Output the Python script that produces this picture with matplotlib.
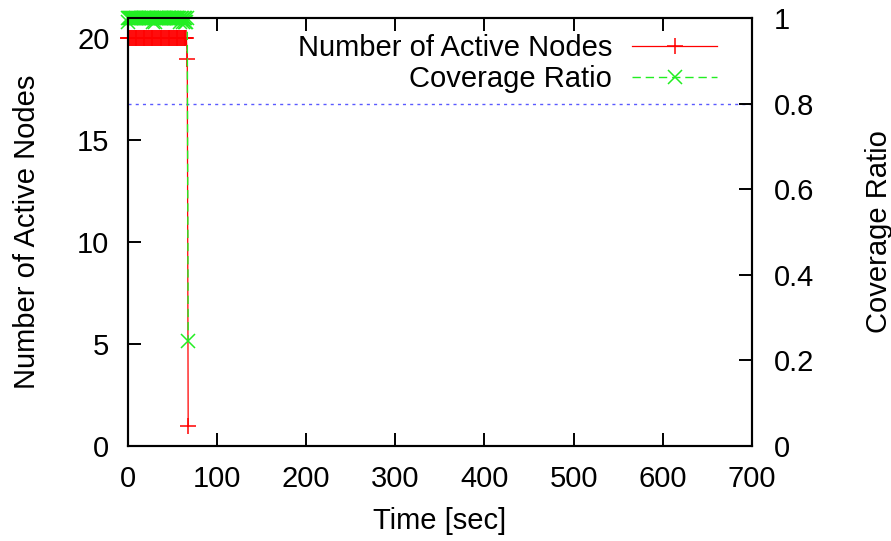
import matplotlib
matplotlib.use("Agg")
import matplotlib.pyplot as plt
from matplotlib.ticker import FixedLocator, FixedFormatter

plt.rcParams['font.family'] = ['Liberation Sans', 'DejaVu Sans']
plt.rcParams['lines.scale_dashes'] = False

# sample times in seconds (1 s steps)
time_sec = list(range(0, 69))

active_nodes = [
    20, 20, 20, 20, 20, 20, 20, 20, 20, 20,
    20, 20, 20, 20, 20, 20, 20, 20, 20, 20,
    20, 20, 20, 20, 20, 20, 20, 20, 20, 20,
    20, 20, 20, 20, 20, 20, 20, 20, 20, 20,
    20, 20, 20, 20, 20, 20, 20, 20, 20, 20,
    20, 20, 20, 20, 20, 20, 20, 20, 20, 20,
    20, 20, 20, 20, 20, 20, 20, 19, 1,
]

coverage = [
    0.99, 1.0, 1.0, 1.0, 1.0, 1.0, 1.0, 1.0, 1.0, 1.0,
    1.0, 1.0, 1.0, 1.0, 1.0, 1.0, 1.0, 1.0, 1.0, 1.0,
    1.0, 1.0, 1.0, 1.0, 1.0, 1.0, 1.0, 1.0, 1.0, 0.99,
    1.0, 0.99, 1.0, 1.0, 1.0, 1.0, 1.0, 1.0, 1.0, 1.0,
    1.0, 1.0, 1.0, 1.0, 1.0, 1.0, 1.0, 1.0, 1.0, 1.0,
    1.0, 1.0, 1.0, 1.0, 1.0, 1.0, 1.0, 1.0, 1.0, 0.99,
    1.0, 1.0, 0.99, 1.0, 0.99, 1.0, 0.99, 1.0, 0.245,
]

target_ratio = 0.8

x_ticks = [0, 100, 200, 300, 400, 500, 600, 700]
y_ticks = [0, 5, 10, 15, 20]
y2_ticks = [0, 0.2, 0.4, 0.6, 0.8, 1.0]
y2_labels = ["0", "0.2", "0.4", "0.6", "0.8", "1"]

fs = 21

fig = plt.figure(figsize=(8.91, 5.41), dpi=100)
ax = fig.add_axes([0.1431, 0.1756, 0.7009, 0.7911])
ax2 = ax.twinx()

ax2.axhline(target_ratio, color='#5a5aff', lw=1.0, ls=(0, (2.2, 3.0)), zorder=1)

l1, = ax.plot(time_sec, active_nodes, color='#ff0000', lw=0.9, marker='+',
              ms=11, mew=1.1, clip_on=False, label='Number of Active Nodes')
l2, = ax2.plot(time_sec, coverage, color='#22ee22', lw=1.0, ls=(0, (6, 3.5)),
               marker='x', ms=10, mew=1.1, clip_on=False, label='Coverage Ratio')

ax.set_xlim(0, 700)
ax.set_ylim(0, 21)
ax2.set_ylim(0, 1)

ax.xaxis.set_major_locator(FixedLocator(x_ticks))
ax.yaxis.set_major_locator(FixedLocator(y_ticks))
ax2.yaxis.set_major_locator(FixedLocator(y2_ticks))
ax2.yaxis.set_major_formatter(FixedFormatter(y2_labels))

ax.tick_params(axis='x', direction='in', length=9.5, width=1.4, top=True,
               labelsize=fs, pad=14)
ax.tick_params(axis='y', direction='in', length=9.5, width=1.4, right=False,
               labelsize=fs, pad=13)
ax2.tick_params(axis='y', direction='in', length=9.5, width=1.4, left=False,
                labelsize=fs, pad=16)

for a in (ax, ax2):
    for s in a.spines.values():
        s.set_linewidth(1.5)

ax.set_xlabel('Time [sec]', fontsize=fs, labelpad=10)
ax.set_ylabel('Number of Active Nodes', fontsize=fs, labelpad=26)
ax2.set_ylabel('Coverage Ratio', fontsize=fs, labelpad=36)

leg = ax2.legend([l1, l2], [l1.get_label(), l2.get_label()], loc='upper right',
                 bbox_to_anchor=(0.944, 0.962), frameon=False, markerfirst=False,
                 numpoints=1, fontsize=fs, handlelength=2.9, handletextpad=0.7,
                 labelspacing=0.1, borderpad=0, borderaxespad=0)

fig.savefig('out.png', dpi=100)
